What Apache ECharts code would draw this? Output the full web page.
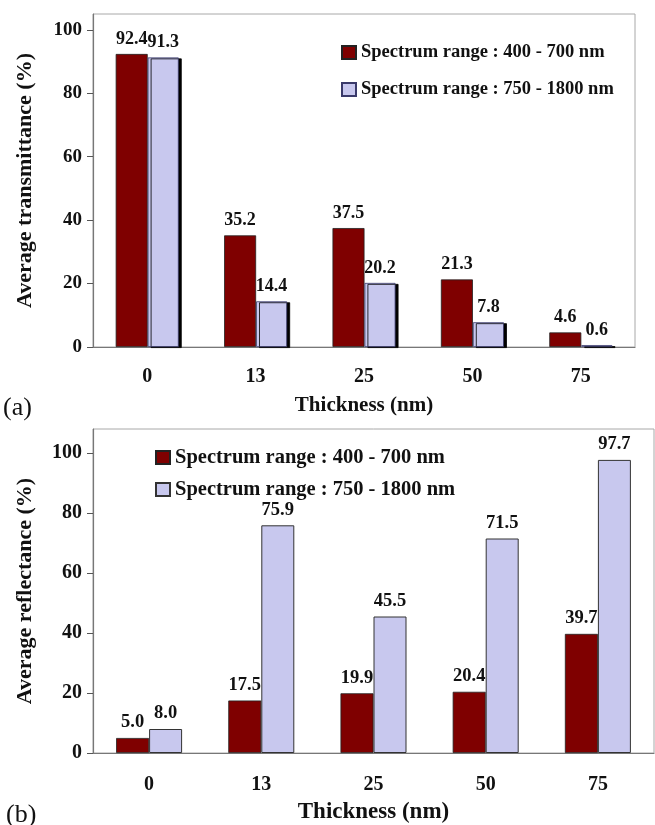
<!DOCTYPE html>
<html>
<head>
<meta charset="utf-8">
<script src="https://cdn.jsdelivr.net/npm/echarts@6/dist/echarts.min.js"></script>
<style>
html,body{margin:0;padding:0;background:#fff;}
#c{width:655px;height:825px;}
</style>
</head>
<body>
<div id="c"></div>
<script>
var categories = ['0', '13', '25', '50', '75'];
var seriesNames = ['Spectrum range : 400 - 700 nm', 'Spectrum range : 750 - 1800 nm'];
var transVis = [92.4, 35.2, 37.5, 21.3, 4.6];
var transNir = [91.3, 14.4, 20.2, 7.8, 0.6];
var reflVis = [5.0, 17.5, 19.9, 20.4, 39.7];
var reflNir = [8.0, 75.9, 45.5, 71.5, 97.7];
var yTicks = [0, 20, 40, 60, 80, 100];

var FONT = '"Liberation Serif", "Times New Roman", serif';
var RED = '#7f0000';
var BLUE = '#c8c8ee';

function labelCfg(fs) {
  return {
    show: true, position: 'top', distance: 6,
    fontFamily: FONT, fontWeight: 'bold', fontSize: fs, color: '#111',
    formatter: function (p) { return Number(p.value).toFixed(1); }
  };
}
function xAx(idx, gap, margin, fs, nfs) {
  return {
    type: 'category', gridIndex: idx, data: categories,
    axisLine: { lineStyle: { color: '#777', width: 1.2 } },
    axisTick: { show: false },
    axisLabel: { fontFamily: FONT, fontWeight: 'bold', fontSize: fs, color: '#111', margin: margin },
    name: 'Thickness (nm)', nameLocation: 'middle', nameGap: gap,
    nameTextStyle: { fontFamily: FONT, fontWeight: 'bold', fontSize: nfs, color: '#111' }
  };
}
function yAx(idx, max, name, fs, nfs) {
  return {
    type: 'value', gridIndex: idx, min: 0, max: max, interval: 20,
    splitLine: { show: false },
    axisLine: { show: true, lineStyle: { color: '#777', width: 1.2 } },
    axisTick: { show: true, length: 6, customValues: yTicks, lineStyle: { color: '#555' } },
    axisLabel: { fontFamily: FONT, fontWeight: 'bold', fontSize: fs, color: '#111', margin: 11, customValues: yTicks },
    name: name, nameLocation: 'middle', nameGap: 57, nameRotate: 90,
    nameTextStyle: { fontFamily: FONT, fontWeight: 'bold', fontSize: nfs, color: '#111' }
  };
}

var chart = echarts.init(document.getElementById('c'), null, { renderer: 'canvas' });
chart.setOption({
  backgroundColor: '#fff',
  animation: false,
  grid: [
    { left: 93, top: 14, width: 542, height: 333, show: true, borderColor: '#a8a8a8', borderWidth: 1, backgroundColor: 'transparent' },
    { left: 93, top: 429, width: 561, height: 325, show: true, borderColor: '#a8a8a8', borderWidth: 1, backgroundColor: 'transparent' }
  ],
  xAxis: [xAx(0, 48, 20, 20, 21), xAx(1, 48, 22, 20, 23)],
  yAxis: [yAx(0, 105, 'Average transmittance (%)', 19, 22), yAx(1, 108, 'Average reflectance (%)', 20, 22)],
  legend: [
    {
      orient: 'vertical', left: 336, top: 38, itemWidth: 14, itemHeight: 13, itemGap: 18,
      data: [{ name: seriesNames[0], icon: 'rect' }, { name: seriesNames[1], icon: 'rect' }],
      textStyle: { fontFamily: FONT, fontWeight: 'bold', fontSize: 18.5, color: '#111' },
      selectedMode: false
    },
    {
      orient: 'vertical', left: 150, top: 442, itemWidth: 14, itemHeight: 13, itemGap: 11,
      data: [{ name: seriesNames[0] + ' ', icon: 'rect' }, { name: seriesNames[1] + ' ', icon: 'rect' }],
      textStyle: { fontFamily: FONT, fontWeight: 'bold', fontSize: 20.5, color: '#111' },
      formatter: function (n) { return n.trim(); },
      selectedMode: false
    }
  ],
  graphic: [
    { type: 'text', left: 3, top: 395, style: { text: '(a)', fontFamily: FONT, fontSize: 26, fill: '#111' } },
    { type: 'text', left: 6, top: 802, style: { text: '(b)', fontFamily: FONT, fontSize: 26, fill: '#111' } }
  ],
  series: [
    {
      name: seriesNames[0], type: 'bar', xAxisIndex: 0, yAxisIndex: 0, data: transVis,
      barWidth: 32, barGap: '0%',
      itemStyle: { color: RED, borderColor: '#222', borderWidth: 0.8 },
      label: labelCfg(18)
    },
    {
      name: seriesNames[1], type: 'bar', xAxisIndex: 0, yAxisIndex: 0, data: transNir,
      barWidth: 31, barGap: '0%',
      itemStyle: { color: BLUE, borderColor: '#3a3a6a', borderWidth: 0.8, shadowColor: '#000', shadowOffsetX: 3, shadowOffsetY: 1, shadowBlur: 0 },
      label: labelCfg(18)
    },
    {
      name: seriesNames[0] + ' ', type: 'bar', xAxisIndex: 1, yAxisIndex: 1, data: reflVis,
      barWidth: 33, barGap: '0%',
      itemStyle: { color: RED, borderColor: '#222', borderWidth: 0.8 },
      label: labelCfg(18.5)
    },
    {
      name: seriesNames[1] + ' ', type: 'bar', xAxisIndex: 1, yAxisIndex: 1, data: reflNir,
      barWidth: 33, barGap: '0%',
      itemStyle: { color: BLUE, borderColor: '#333', borderWidth: 1 },
      label: labelCfg(18.5)
    }
  ]
});
</script>
</body>
</html>
